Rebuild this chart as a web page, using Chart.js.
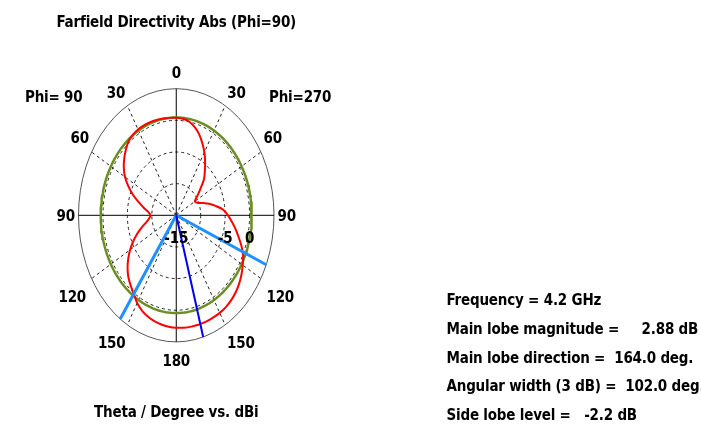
<!DOCTYPE html>
<html>
<head>
<meta charset="utf-8">
<title>Farfield Directivity Abs (Phi=90)</title>
<script src="https://cdn.jsdelivr.net/npm/chart.js@4/dist/chart.umd.min.js"></script>
<style>
  html, body { margin: 0; padding: 0; background: #ffffff; }
  canvas { display: block; }
</style>
</head>
<body>
<canvas id="farfield" width="701" height="432"></canvas>
<script>
// Polar cut: angle measured clockwise from the top.
// Right half is the Phi=270 side (theta 0..180), left half the Phi=90 side.
const thetaDeg = [
  0, 5, 10, 15, 20, 25, 30, 35, 40, 45, 50, 55, 60, 65, 70, 75, 80, 85, 90,
  95, 100, 105, 110, 115, 120, 125, 130, 135, 140, 145, 150, 155, 160, 164, 165,
  170, 175, 180, 185, 190, 195, 200, 205, 210, 215, 220, 225, 230, 235, 240,
  245, 250, 255, 260, 265, 270, 275, 280, 285, 290, 295, 300, 305, 310, 315,
  320, 325, 330, 335, 340, 345, 350, 355, 360
];
const directivityDbi = [
  0.40, 0.30, 0.05, -0.55, -1.35, -2.40, -3.50, -4.70, -5.90, -7.00, -8.60, -9.80, -10.60, -10.30, -9.30, -8.00, -6.70, -5.30, -4.40,
  -3.60, -2.70, -1.80, -0.80, 0.10, 0.70, 1.30, 1.80, 2.20, 2.50, 2.70, 2.80, 2.84, 2.87, 2.88, 2.88,
  2.86, 2.82, 2.76, 2.66, 2.52, 2.32, 2.02, 1.60, 1.00, 0.15, -0.50, -1.15, -2.00, -3.00, -4.10,
  -5.30, -6.50, -7.70, -8.80, -9.45, -9.70, -9.30, -8.30, -7.10, -5.60, -4.20, -2.90, -1.90, -1.10, -0.40,
  0.20, 0.50, 0.66, 0.68, 0.66, 0.60, 0.52, 0.45, 0.40
];

// Main lobe and 3 dB beam edges
const mainLobeDeg = 164.0;
const mainLobeDbi = 2.88;
const beamEdgeDeg = [113, 215];
const contourDbi = 0.45;

// Radial dB scale
const scaleMinDb = -15;
const scaleMaxDb = 5;
const ringDb = [-10, -5, 0];
const ringLabelDb = [-15, -5, 0];
const ringLabels = ['-15', '-5', '0'];

// Angular grid and tick labels
const spokeDeg = [30, 60, 120, 150, 210, 240, 300, 330];
const angleTickDeg = [0, 30, 60, 90, 120, 150, 180, 210, 240, 270, 300, 330];
const angleTickLabels = ['0', '30', '60', '90', '120', '150', '180', '150', '120', '90', '60', '30'];

const infoLines = [
  'Frequency = 4.2 GHz',
  'Main lobe magnitude =     2.88 dB',
  'Main lobe direction =  164.0 deg.',
  'Angular width (3 dB) =  102.0 deg.',
  'Side lobe level =   -2.2 dB'
];

// ---- styling / layout constants ----
const FONT = 'bold 15px "DejaVu Sans Condensed", "DejaVu Sans", sans-serif';
const SPAN = scaleMaxDb - scaleMinDb;
// tick label anchor (direction, radius in scale units) for the right half
const tickAnchor = {
  0: [0, 22.6], 30: [32.4, 23.0], 60: [57.9, 23.3], 90: [90, 22.6],
  120: [120.9, 24.8], 150: [146.6, 24.0], 180: [180, 22.9]
};

function polar(deg, radius) {
  const a = deg * Math.PI / 180;
  return { x: radius * Math.sin(a), y: radius * Math.cos(a) };
}
function dbPoint(deg, db) {
  return polar(deg, Math.max(0, db - scaleMinDb));
}

const patternPts = thetaDeg.map((t, i) => dbPoint(t, directivityDbi[i]));
const contourPts = [];
for (let t = 0; t <= 360; t += 2) contourPts.push(dbPoint(t, contourDbi));
const mainLobePts = [{ x: 0, y: 0 }, polar(mainLobeDeg, SPAN)];
const edgeDatasets = beamEdgeDeg.map(d => ({
  data: [{ x: 0, y: 0 }, polar(d, SPAN)],
  borderColor: '#1e90ff', borderWidth: 3, order: 1
}));

const polarGrid = {
  id: 'polarGrid',
  beforeDatasetsDraw(chart) {
    const { ctx, scales: { x, y } } = chart;
    const cx = x.getPixelForValue(0), cy = y.getPixelForValue(0);
    const kx = x.getPixelForValue(1) - cx, ky = cy - y.getPixelForValue(1);
    ctx.save();
    ctx.lineWidth = 1;
    // dashed dB rings
    ctx.strokeStyle = '#222';
    ctx.setLineDash([3, 3]);
    ringDb.forEach(db => {
      const r = db - scaleMinDb;
      ctx.beginPath();
      ctx.ellipse(cx, cy, kx * r, ky * r, 0, 0, Math.PI * 2);
      ctx.stroke();
    });
    // dashed spokes
    spokeDeg.forEach(d => {
      const p = polar(d, SPAN);
      ctx.beginPath();
      ctx.moveTo(cx, cy);
      ctx.lineTo(x.getPixelForValue(p.x), y.getPixelForValue(p.y));
      ctx.stroke();
    });
    ctx.setLineDash([]);
    // outer boundary
    ctx.strokeStyle = '#555';
    ctx.beginPath();
    ctx.ellipse(cx, cy, kx * SPAN, ky * SPAN, 0, 0, Math.PI * 2);
    ctx.stroke();
    // solid axes
    ctx.strokeStyle = '#000';
    ctx.beginPath();
    ctx.moveTo(x.getPixelForValue(-SPAN), cy);
    ctx.lineTo(x.getPixelForValue(SPAN), cy);
    ctx.moveTo(cx, y.getPixelForValue(SPAN));
    ctx.lineTo(cx, y.getPixelForValue(-SPAN));
    ctx.stroke();
    ctx.restore();
  },
  afterDraw(chart) {
    const { ctx, scales: { x, y } } = chart;
    const cx = x.getPixelForValue(0), cy = y.getPixelForValue(0);
    ctx.save();
    ctx.fillStyle = '#000';
    ctx.font = FONT;
    if ('letterSpacing' in ctx) ctx.letterSpacing = '-0.2px';
    ctx.textBaseline = 'alphabetic';

    // titles
    ctx.textAlign = 'center';
    ctx.fillText('Farfield Directivity Abs (Phi=90)', cx, 27);
    ctx.fillText('Theta / Degree vs. dBi', cx, 417);
    ctx.textAlign = 'left';
    ctx.fillText('Phi= 90', 25, 102);
    ctx.fillText('Phi=270', 269, 102);

    // angle tick labels
    ctx.textAlign = 'center';
    angleTickDeg.forEach((d, i) => {
      const mirrored = d > 180;
      const key = mirrored ? 360 - d : d;
      const [dir, rad] = tickAnchor[key];
      const p = polar(mirrored ? 360 - dir : dir, rad);
      ctx.fillText(angleTickLabels[i], x.getPixelForValue(p.x), y.getPixelForValue(p.y) + 6);
    });

    // dB ring labels along the horizontal axis
    ringLabelDb.forEach((db, i) => {
      const px = x.getPixelForValue(db - scaleMinDb);
      ctx.fillText(ringLabels[i], px, cy + 28);
    });

    // summary block
    ctx.textAlign = 'left';
    infoLines.forEach((line, i) => {
      ctx.fillText(line, 446.5, 305 + i * 28.75);
    });
    ctx.restore();
  }
};

new Chart(document.getElementById('farfield'), {
  type: 'scatter',
  data: {
    datasets: [
      { data: mainLobePts, borderColor: '#0000ee', borderWidth: 2, order: 0 },
      ...edgeDatasets,
      { data: patternPts, borderColor: '#ff0000', borderWidth: 2, tension: 0.3, order: 2 },
      { data: contourPts, borderColor: '#6b8e23', borderWidth: 2.5, order: 3 }
    ].map(ds => Object.assign({ showLine: true, pointRadius: 0, fill: false, clip: false }, ds))
  },
  options: {
    responsive: false,
    animation: false,
    events: [],
    layout: { padding: { left: 78.5, right: 427, top: 88.7, bottom: 90.1 } },
    plugins: { legend: { display: false }, tooltip: { enabled: false }, title: { display: false } },
    scales: {
      x: { type: 'linear', min: -SPAN, max: SPAN, display: false },
      y: { type: 'linear', min: -SPAN, max: SPAN, display: false }
    }
  },
  plugins: [polarGrid]
});
</script>
</body>
</html>
